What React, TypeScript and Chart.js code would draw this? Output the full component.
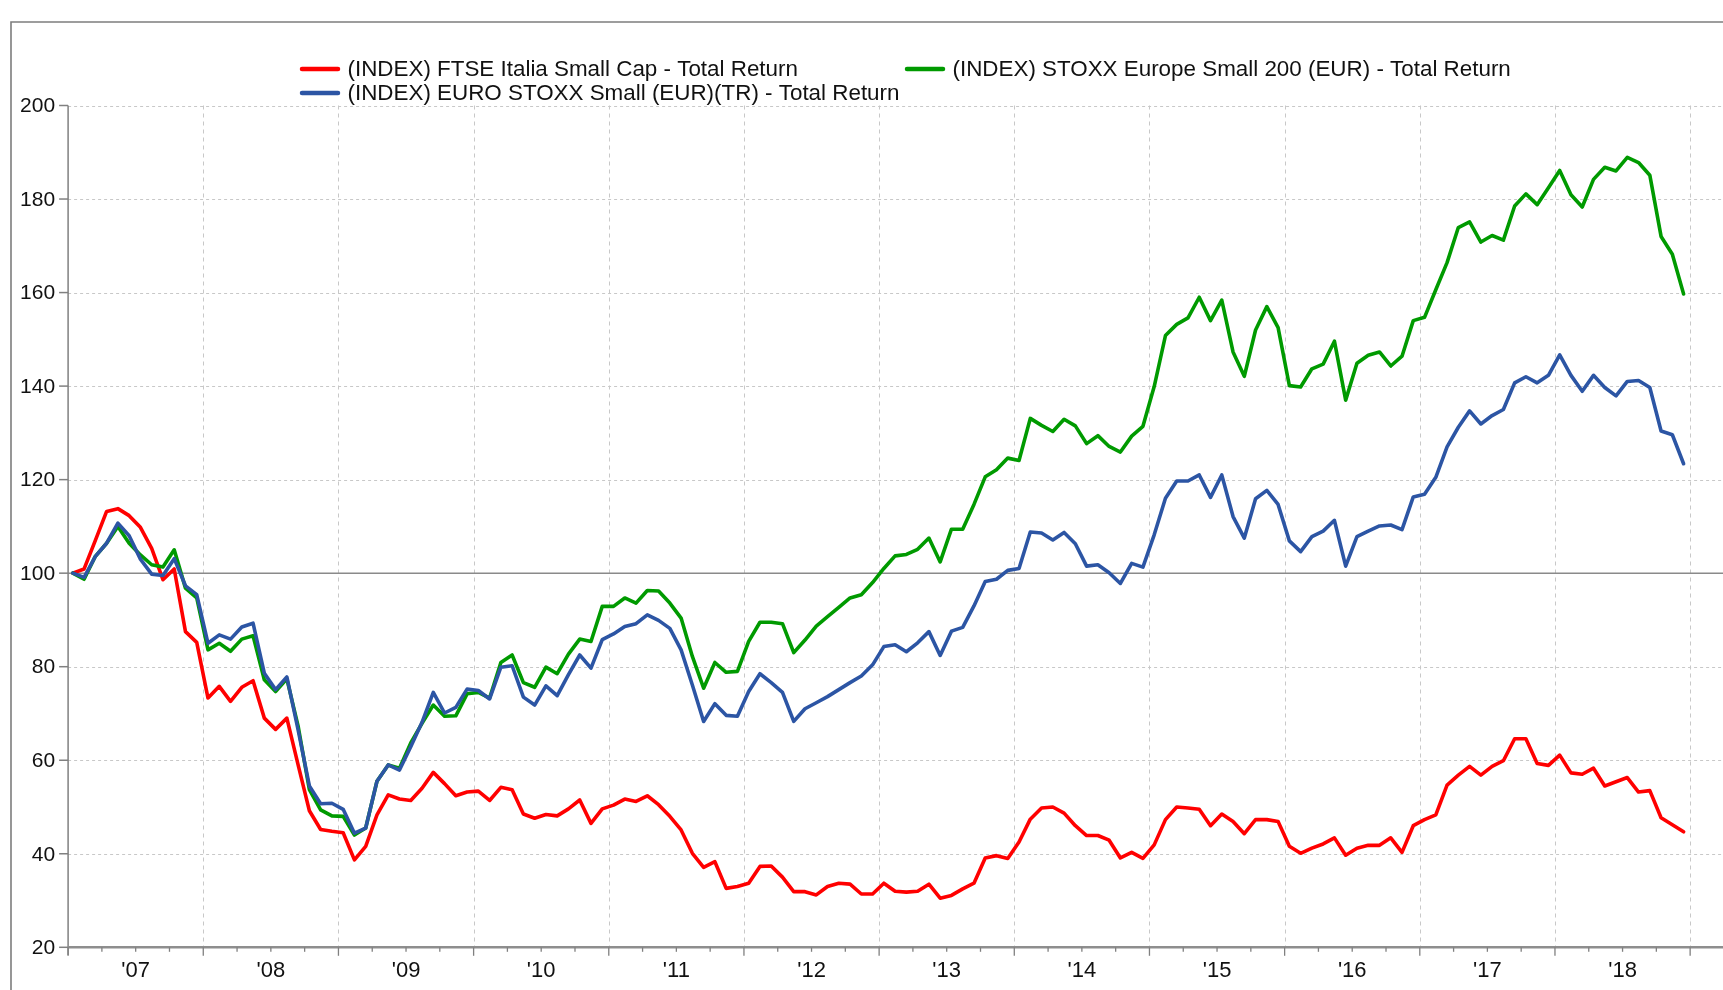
import React, { useEffect, useRef } from 'react';
import { Chart, registerables } from 'chart.js';

Chart.register(...registerables);

// ---------------- data ----------------
const FIRST_YEAR = 2007;
const yearLabels = ["'07", "'08", "'09", "'10", "'11", "'12", "'13", "'14", "'15", "'16", "'17", "'18"];
const yTicks = [20, 40, 60, 80, 100, 120, 140, 160, 180, 200];
const BASE_VALUE = 100;

const seriesNames = [
  '(INDEX) FTSE Italia Small Cap - Total Return',
  '(INDEX) EURO STOXX Small (EUR)(TR) - Total Return',
  '(INDEX) STOXX Europe Small 200 (EUR) - Total Return',
];

// monthly values, Jan 2007 .. Dec 2018
const ftseItaliaSmallCap = [
  100, 100.9, 107, 113.2, 113.8, 112.3, 109.8, 105.3, 98.6, 100.9, 87.5, 85.2,
  73.3, 75.8, 72.6, 75.6, 77.0, 69.0, 66.6, 69.0, 59.0, 49.2, 45.2, 44.8,
  44.5, 38.7, 41.6, 48.3, 52.6, 51.7, 51.4, 54.0, 57.4, 55.0, 52.4, 53.2,
  53.4, 51.4, 54.2, 53.7, 48.5, 47.6, 48.4, 48.1, 49.6, 51.5, 46.5, 49.6,
  50.4, 51.7, 51.2, 52.4, 50.5, 48.0, 45.1, 40.1, 37.1, 38.3, 32.6, 33.0,
  33.7, 37.3, 37.4, 35.0, 31.9, 31.9, 31.2, 33.0, 33.7, 33.5, 31.4, 31.4,
  33.7, 32.0, 31.8, 32.0, 33.5, 30.5, 31.1, 32.5, 33.7, 39.1, 39.6, 39.0,
  42.5, 47.4, 49.8, 50.0, 48.7, 46.0, 43.9, 43.9, 42.9, 39.1, 40.3, 39.0,
  41.9, 47.3, 50.0, 49.8, 49.5, 46.0, 48.5, 46.9, 44.3, 47.3, 47.3, 46.9,
  41.6, 40.1, 41.2, 42.1, 43.4, 39.7, 41.2, 41.8, 41.8, 43.4, 40.3, 46.0,
  47.3, 48.3, 54.7, 56.8, 58.7, 56.8, 58.7, 59.9, 64.6, 64.6, 59.3, 58.9,
  61.1, 57.3, 57.0, 58.3, 54.5, 55.4, 56.3, 53.2, 53.5, 47.7, 46.2, 44.7,
];

const euroStoxxSmall = [
  100, 99.1, 103.6, 106.4, 110.7, 108.0, 103.0, 99.8, 99.5, 103.1, 97.3, 95.4,
  85.0, 86.8, 85.9, 88.5, 89.3, 78.6, 75.1, 77.8, 66.5, 54.5, 50.7, 50.8,
  49.5, 44.4, 45.5, 55.5, 59.0, 57.9, 62.9, 68.1, 74.5, 70.1, 71.3, 75.2,
  74.9, 73.1, 79.9, 80.2, 73.5, 71.8, 75.9, 73.8, 78.3, 82.5, 79.7, 85.8,
  87.0, 88.6, 89.2, 91.1, 89.9, 88.2, 83.6, 76.1, 68.3, 72.1, 69.6, 69.4,
  74.7, 78.5, 76.6, 74.5, 68.3, 71.0, 72.3, 73.6, 75.1, 76.6, 78.0, 80.4,
  84.3, 84.7, 83.2, 85.1, 87.5, 82.4, 87.6, 88.4, 93.0, 98.2, 98.7, 100.6,
  101.0, 108.8, 108.6, 107.1, 108.7, 106.3, 101.5, 101.8, 100.1, 97.8, 102.1, 101.3,
  108.2, 116.0, 119.7, 119.7, 121.0, 116.2, 121.0, 112.1, 107.5, 115.9, 117.7, 114.7,
  106.9, 104.6, 107.8, 109.0, 111.3, 101.5, 107.8, 109.0, 110.1, 110.3, 109.3, 116.3,
  116.9, 120.5, 127.0, 131.2, 134.7, 131.9, 133.7, 135.0, 140.7, 142.0, 140.7, 142.3,
  146.7, 142.3, 138.9, 142.3, 139.7, 137.9, 141.0, 141.2, 139.7, 130.4, 129.6, 123.4,
];

const stoxxEuropeSmall200 = [
  100, 98.7, 103.6, 106.4, 110.0, 106.4, 103.9, 101.8, 101.3, 105.0, 96.8, 94.7,
  83.6, 85.0, 83.3, 85.9, 86.6, 77.2, 74.7, 77.4, 67.3, 53.7, 49.4, 48.1,
  48.0, 44.0, 45.5, 55.5, 59.0, 58.3, 63.7, 67.9, 71.8, 69.4, 69.5, 74.2,
  74.5, 73.3, 80.9, 82.5, 76.6, 75.6, 79.9, 78.5, 82.7, 85.9, 85.4, 92.9,
  92.9, 94.7, 93.6, 96.3, 96.2, 93.6, 90.4, 82.2, 75.4, 80.9, 78.8, 79.0,
  85.4, 89.5, 89.5, 89.2, 83.0, 85.7, 88.7, 90.7, 92.7, 94.7, 95.4, 98.0,
  101.0, 103.7, 104.0, 105.1, 107.5, 102.4, 109.4, 109.4, 114.7, 120.6, 122.1, 124.6,
  124.1, 133.1, 131.6, 130.3, 132.9, 131.5, 127.7, 129.4, 127.1, 125.9, 129.3, 131.4,
  139.9, 150.8, 153.2, 154.6, 159.0, 154.0, 158.4, 147.3, 142.1, 152.0, 157.0, 152.5,
  140.1, 139.8, 143.7, 144.7, 149.6, 137.0, 144.9, 146.6, 147.3, 144.3, 146.4, 154.0,
  154.7, 160.6, 166.4, 173.9, 175.1, 170.8, 172.2, 171.2, 178.5, 181.1, 178.8, 182.4,
  186.1, 180.9, 178.3, 184.2, 186.8, 186.0, 188.9, 187.8, 185.1, 172.0, 168.2, 159.7,
];

// ---------------- style / layout ----------------
const COLORS = { red: '#ff0000', blue: '#2c55a4', green: '#009a00' };
const W = 1723;
const H = 990;
const FONT = '"Liberation Sans", Arial, Helvetica, sans-serif';

const AREA_LEFT = 68.1;
const AREA_TOP = 105.5;
const AREA_BOTTOM = 947.3;
const YEAR_PX = 135.17;
const X_MIN = FIRST_YEAR;
const X_MAX = FIRST_YEAR + (W - AREA_LEFT) / YEAR_PX;
const FIRST_POINT_OFFSET = 0.035; // first observation a few days into January

const monthX = (i: number) => FIRST_YEAR + FIRST_POINT_OFFSET + i / 12;
const toPoints = (vals: number[]) => vals.map((v, i) => ({ x: monthX(i), y: v }));

const legendLayout = [
  { series: 0, color: COLORS.red, x: 301, y: 69 },
  { series: 1, color: COLORS.blue, x: 301, y: 93 },
  { series: 2, color: COLORS.green, x: 906, y: 69 },
];

const decorPlugin = {
  id: 'decor',
  beforeDraw(chart: any) {
    const ctx = chart.ctx as CanvasRenderingContext2D;
    ctx.save();
    ctx.fillStyle = '#ffffff';
    ctx.fillRect(0, 0, chart.width, chart.height);
    // outer frame (cut off at right/bottom)
    ctx.strokeStyle = '#7d7d7d';
    ctx.lineWidth = 1.6;
    ctx.beginPath();
    ctx.moveTo(11, H + 5);
    ctx.lineTo(11, 22);
    ctx.lineTo(W + 5, 22);
    ctx.stroke();
    ctx.restore();
  },
  beforeDatasetsDraw(chart: any) {
    const ctx = chart.ctx as CanvasRenderingContext2D;
    const a = chart.chartArea;
    const x = chart.scales.x;
    const y = chart.scales.y;
    const line = (x1: number, y1: number, x2: number, y2: number) => {
      ctx.beginPath();
      ctx.moveTo(x1, y1);
      ctx.lineTo(x2, y2);
      ctx.stroke();
    };
    ctx.save();
    // vertical dashed gridlines at year boundaries
    ctx.strokeStyle = '#c8c8c8';
    ctx.lineWidth = 1;
    ctx.setLineDash([4, 4]);
    for (let k = 1; k <= yearLabels.length; k++) {
      const px = Math.round(x.getPixelForValue(FIRST_YEAR + k)) + 0.5;
      line(px, a.top, px, a.bottom);
    }
    // horizontal dashed gridlines
    ctx.setLineDash([3, 3]);
    for (const v of yTicks) {
      if (v === BASE_VALUE || v === yTicks[0]) continue;
      const py = Math.round(y.getPixelForValue(v)) + 0.5;
      line(a.left, py, a.right, py);
    }
    ctx.setLineDash([]);
    // base line at 100
    ctx.strokeStyle = '#8a8a8a';
    ctx.lineWidth = 1.5;
    const pyBase = y.getPixelForValue(BASE_VALUE);
    line(a.left, pyBase, a.right, pyBase);
    // y axis line + tick marks
    ctx.strokeStyle = '#808080';
    ctx.lineWidth = 1.5;
    line(a.left, a.top, a.left, a.bottom + 8);
    for (const v of yTicks) {
      const py = y.getPixelForValue(v);
      line(a.left - 9, py, a.left, py);
    }
    // x axis line
    ctx.strokeStyle = '#8e8e8e';
    ctx.lineWidth = 2.6;
    line(a.left, a.bottom, a.right, a.bottom);
    // x tick marks (quarters, years longer)
    ctx.strokeStyle = '#808080';
    ctx.lineWidth = 1.3;
    for (let q = 0; q <= yearLabels.length * 4; q++) {
      const px = x.getPixelForValue(FIRST_YEAR + q / 4);
      const len = q % 4 === 0 ? 8.5 : 4.5;
      line(px, a.bottom, px, a.bottom + len);
    }
    ctx.restore();
  },
  afterDraw(chart: any) {
    const ctx = chart.ctx as CanvasRenderingContext2D;
    const a = chart.chartArea;
    const x = chart.scales.x;
    const y = chart.scales.y;
    ctx.save();
    ctx.fillStyle = '#111111';
    // y labels
    ctx.font = `21px ${FONT}`;
    ctx.textAlign = 'right';
    ctx.textBaseline = 'middle';
    for (const v of yTicks) {
      ctx.fillText(String(v), a.left - 13, y.getPixelForValue(v) + 1);
    }
    // x labels centred in each year
    ctx.font = `22px ${FONT}`;
    ctx.textAlign = 'center';
    yearLabels.forEach((lab, k) => {
      ctx.fillText(lab, x.getPixelForValue(FIRST_YEAR + k + 0.5), 971);
    });
    // legend
    ctx.font = `22.4px ${FONT}`;
    ctx.textAlign = 'left';
    for (const item of legendLayout) {
      ctx.strokeStyle = item.color;
      ctx.lineWidth = 4.5;
      ctx.lineCap = 'round';
      ctx.beginPath();
      ctx.moveTo(item.x + 1, item.y);
      ctx.lineTo(item.x + 37, item.y);
      ctx.stroke();
      ctx.fillText(seriesNames[item.series], item.x + 46.5, item.y + 1);
    }
    ctx.restore();
  },
};

export default function App() {
  const ref = useRef<HTMLCanvasElement>(null);
  useEffect(() => {
    document.body.style.margin = '0';
    const canvas = ref.current;
    if (!canvas) return;
    const chart = new Chart(canvas, {
      type: 'line',
      data: {
        datasets: [
          {
            label: seriesNames[0],
            data: toPoints(ftseItaliaSmallCap),
            borderColor: COLORS.red,
            backgroundColor: COLORS.red,
            order: 3,
          },
          {
            label: seriesNames[1],
            data: toPoints(euroStoxxSmall),
            borderColor: COLORS.blue,
            backgroundColor: COLORS.blue,
            order: 1,
          },
          {
            label: seriesNames[2],
            data: toPoints(stoxxEuropeSmall200),
            borderColor: COLORS.green,
            backgroundColor: COLORS.green,
            order: 2,
          },
        ],
      },
      options: {
        responsive: false,
        animation: false,
        devicePixelRatio: 1,
        layout: { padding: { left: AREA_LEFT, top: AREA_TOP, right: 0, bottom: H - AREA_BOTTOM } },
        elements: {
          point: { radius: 0, hoverRadius: 0 },
          line: { borderWidth: 3.6, tension: 0, borderJoinStyle: 'round', borderCapStyle: 'round', fill: false },
        },
        plugins: { legend: { display: false }, tooltip: { enabled: false } },
        events: [],
        scales: {
          x: { type: 'linear', display: false, min: X_MIN, max: X_MAX },
          y: { type: 'linear', display: false, min: yTicks[0], max: yTicks[yTicks.length - 1] },
        },
      },
      plugins: [decorPlugin],
    } as any);
    return () => chart.destroy();
  }, []);
  return (
    <canvas
      ref={ref}
      width={W}
      height={H}
      style={{ width: `${W}px`, height: `${H}px`, display: 'block' }}
    />
  );
}
